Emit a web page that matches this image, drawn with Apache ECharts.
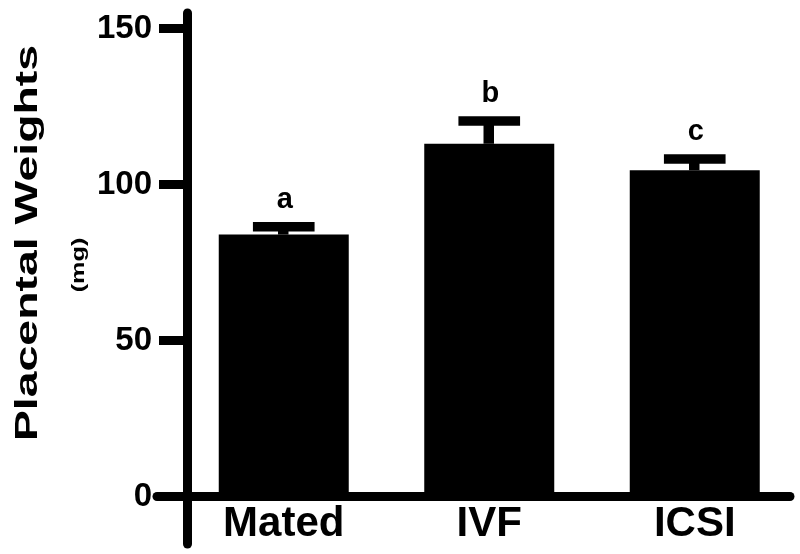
<!DOCTYPE html>
<html>
<head>
<meta charset="utf-8">
<script src="https://cdn.jsdelivr.net/npm/echarts@6/dist/echarts.min.js"></script>
<style>html,body{margin:0;padding:0;background:#fff;}#main{width:800px;height:554px;}</style>
</head>
<body>
<div id="main"></div>
<script>
const categories = ['Mated', 'IVF', 'ICSI'];
const meanWeights = [84.0, 113.1, 104.6];
const errorTops = [86.5, 120.4, 108.2];
const sigLetters = ['a', 'b', 'c'];
const yTicks = [0, 50, 100, 150];
const yTitle = 'Placental Weights';
const yUnit = '(mg)';

const FONT = '"Liberation Sans", Arial, Helvetica, sans-serif';
const Y_TOP = 155.0;     // value at top of axis line
const Y_BOTTOM = -15.2;  // value at bottom of axis line (below x axis)

const errData = categories.map((c, i) => [i, meanWeights[i], errorTops[i], sigLetters[i]]);

const chart = echarts.init(document.getElementById('main'), null, {renderer: 'canvas'});
chart.setOption({
  animation: false,
  backgroundColor: '#fff',
  grid: [
    {left: 181, width: 616.5, top: 13, bottom: 57.3, containLabel: false, outerBoundsMode: 'none'},
    {left: 157, right: 10, top: 13, bottom: 10, containLabel: false, outerBoundsMode: 'none'}
  ],
  xAxis: [
    {
      type: 'category', gridIndex: 0, data: categories,
      axisLine: {show: false},
      axisTick: {show: false},
      axisLabel: {color: '#000', fontFamily: FONT, fontWeight: 'bold', fontSize: 42, margin: 7}
    },
    {
      type: 'value', gridIndex: 1, min: 0, max: 1,
      axisLine: {show: true, onZero: true, lineStyle: {color: '#000', width: 9}},
      axisTick: {show: false}, axisLabel: {show: false}, splitLine: {show: false}
    }
  ],
  yAxis: [
    {
      type: 'value', gridIndex: 0, min: 0, max: Y_TOP, show: false
    },
    {
      type: 'value', gridIndex: 1, min: Y_BOTTOM, max: Y_TOP, offset: -30,
      axisLine: {show: true, lineStyle: {color: '#000', width: 9}},
      axisTick: {show: true, length: 28, lineStyle: {color: '#000', width: 9}, customValues: yTicks},
      axisLabel: {color: '#000', fontFamily: FONT, fontWeight: 'bold', fontSize: 33, margin: 35, customValues: yTicks},
      splitLine: {show: false}
    }
  ],
  graphic: [
    {
      type: 'text', x: 28, y: 243, rotation: Math.PI / 2, scaleX: 1.45,
      style: {text: yTitle, fill: '#000', font: 'bold 32px ' + FONT, align: 'center', verticalAlign: 'middle', textAlign: 'center', textVerticalAlign: 'middle'}
    },
    {
      type: 'text', x: 79, y: 265, rotation: Math.PI / 2, scaleX: 1.4,
      style: {text: yUnit, fill: '#000', font: 'bold 18px ' + FONT, align: 'center', verticalAlign: 'middle', textAlign: 'center', textVerticalAlign: 'middle'}
    }
  ],
  series: [
    {
      type: 'bar', xAxisIndex: 0, yAxisIndex: 0, data: meanWeights,
      barWidth: 130, itemStyle: {color: '#000'}, z: 2
    },
    {
      type: 'custom', xAxisIndex: 0, yAxisIndex: 0, data: errData, z: 3,
      renderItem: function (params, api) {
        const idx = api.value(0);
        const top = api.coord([idx, api.value(2)]);
        const base = api.coord([idx, api.value(1)]);
        const band = api.size([1, 0])[0];
        const capW = band * 0.3;
        const th = 9.5;
        return {
          type: 'group',
          children: [
            {type: 'rect', shape: {x: top[0] - capW / 2, y: top[1] - th / 2, width: capW, height: th}, style: {fill: '#000'}},
            {type: 'rect', shape: {x: top[0] - th / 2 - 1, y: top[1], width: th + 1, height: base[1] - top[1]}, style: {fill: '#000'}},
            {type: 'text', x: top[0] + 1, y: top[1] - th / 2 - 8,
             style: {text: api.value(3), fill: '#000', font: 'bold 29px ' + FONT, align: 'center', verticalAlign: 'bottom'}}
          ]
        };
      }
    }
  ]
});
</script>
</body>
</html>
